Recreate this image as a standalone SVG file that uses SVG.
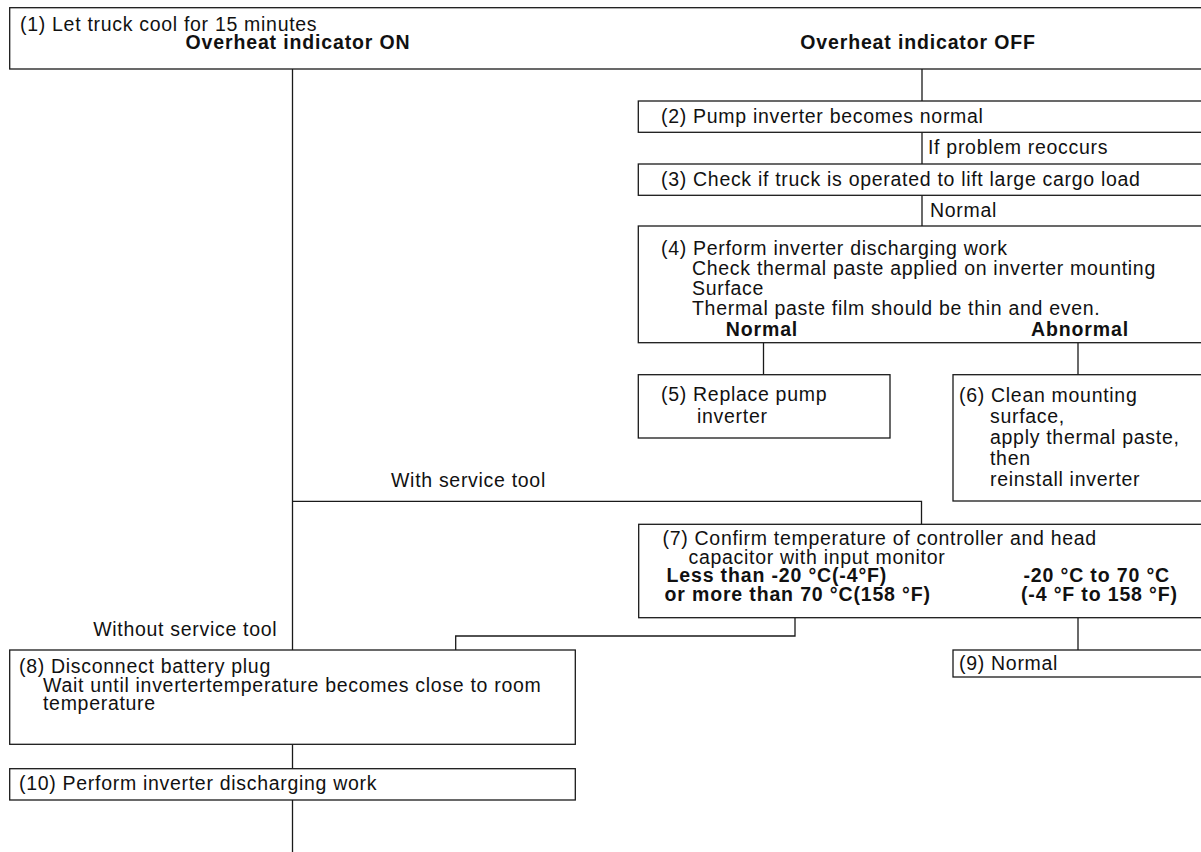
<svg xmlns="http://www.w3.org/2000/svg" width="1201" height="852" viewBox="0 0 1201 852">
  <style>
    .box { fill: #ffffff; stroke: #1a1a1a; stroke-width: 1.3; }
    .wire { fill: none; stroke: #1a1a1a; stroke-width: 1.3; }
    .t { font-family: "Liberation Sans", Arial, Helvetica, sans-serif; font-size: 19.5px; letter-spacing: 0.7px; fill: #111111; }
    .b { font-weight: bold; letter-spacing: 0.85px; }
    .mid { text-anchor: middle; }
    .end { text-anchor: end; }
  </style>
  <rect width="1201" height="852" fill="#ffffff"/>

  <!-- connectors and branch labels -->
  <g id="connectors">
    <path class="wire" d="M292.5,69 V650"/>
    <path class="wire" d="M292.5,744.3 V768.7"/>
    <path class="wire" d="M292.5,800 V852"/>
    <path class="wire" d="M922,69 V101"/>
    <path class="wire" d="M922,132.3 V164"/>
    <path class="wire" d="M922,195.3 V226"/>
    <path class="wire" d="M763.5,342.7 V374.7"/>
    <path class="wire" d="M1078,342.7 V374.7"/>
    <path class="wire" d="M292.5,501.3 H921.5 V524.3"/>
    <path class="wire" d="M795,617.7 V636 H455.7 V650"/>
    <path class="wire" d="M1078,617.7 V650"/>
    <text class="t" x="928" y="153.5">If problem reoccurs</text>
    <text class="t" x="930" y="217">Normal</text>
    <text class="t" x="391" y="487.3">With service tool</text>
    <text class="t end" x="277.3" y="635.7">Without service tool</text>
  </g>

  <!-- (1) cool down -->
  <g id="step1">
    <rect class="box" x="9.7" y="7.7" width="1205" height="61.3"/>
    <text class="t" x="20" y="31">(1) Let truck cool for 15 minutes</text>
    <text class="t b mid" x="298" y="48.5">Overheat indicator ON</text>
    <text class="t b mid" x="918" y="48.5">Overheat indicator OFF</text>
  </g>

  <!-- (2) -->
  <g id="step2">
    <rect class="box" x="638.3" y="101" width="580" height="31.3"/>
    <text class="t" x="661" y="122.5">(2) Pump inverter becomes normal</text>
  </g>

  <!-- (3) -->
  <g id="step3">
    <rect class="box" x="638.3" y="164" width="580" height="31.3"/>
    <text class="t" x="661" y="186">(3) Check if truck is operated to lift large cargo load</text>
  </g>

  <!-- (4) -->
  <g id="step4">
    <rect class="box" x="638.3" y="226" width="580" height="116.7"/>
    <text class="t" x="661" y="255">(4) Perform inverter discharging work</text>
    <text class="t" x="692" y="275">Check thermal paste applied on inverter mounting</text>
    <text class="t" x="692" y="295">Surface</text>
    <text class="t" x="692" y="315">Thermal paste film should be thin and even.</text>
    <text class="t b mid" x="762" y="335.5">Normal</text>
    <text class="t b mid" x="1080" y="335.5">Abnormal</text>
  </g>

  <!-- (5) -->
  <g id="step5">
    <rect class="box" x="638.3" y="374.7" width="251.7" height="63.3"/>
    <text class="t" x="661" y="401">(5) Replace pump</text>
    <text class="t" x="697" y="422.7">inverter</text>
  </g>

  <!-- (6) -->
  <g id="step6">
    <rect class="box" x="953" y="374.7" width="265" height="126.3"/>
    <text class="t" x="959" y="401.7">(6) Clean mounting</text>
    <text class="t" x="990" y="422.7">surface,</text>
    <text class="t" x="990" y="443.7">apply thermal paste,</text>
    <text class="t" x="990" y="464.7">then</text>
    <text class="t" x="990" y="485.7">reinstall inverter</text>
  </g>

  <!-- (7) -->
  <g id="step7">
    <rect class="box" x="638.7" y="524.3" width="580" height="93.4"/>
    <text class="t" x="662.5" y="545">(7) Confirm temperature of controller and head</text>
    <text class="t" x="688.5" y="563.5">capacitor with input monitor</text>
    <text class="t b" x="666.5" y="581.5">Less than -20 °C(-4°F)</text>
    <text class="t b" x="664.5" y="600.5">or more than 70 °C(158 °F)</text>
    <text class="t b" x="1023.5" y="581.5">-20 °C to 70 °C</text>
    <text class="t b" x="1021" y="600.5">(-4 °F to 158 °F)</text>
  </g>

  <!-- (8) -->
  <g id="step8">
    <rect class="box" x="9.7" y="650" width="565.6" height="94.3"/>
    <text class="t" x="19" y="673">(8) Disconnect battery plug</text>
    <text class="t" x="43" y="692">Wait until invertertemperature becomes close to room</text>
    <text class="t" x="43" y="710">temperature</text>
  </g>

  <!-- (9) -->
  <g id="step9">
    <rect class="box" x="953" y="650" width="265" height="27"/>
    <text class="t" x="959" y="670">(9) Normal</text>
  </g>

  <!-- (10) -->
  <g id="step10">
    <rect class="box" x="9.7" y="768.7" width="565.6" height="31.3"/>
    <text class="t" x="19" y="790">(10) Perform inverter discharging work</text>
  </g>
</svg>
